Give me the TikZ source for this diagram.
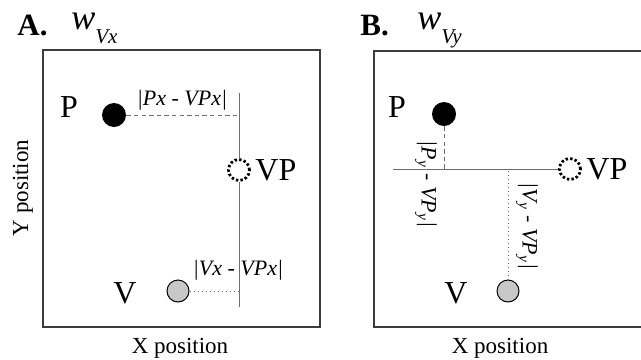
\documentclass[tikz,border=0pt]{standalone}
\usepackage{fontspec}
\setmainfont{Liberation Serif}
\usetikzlibrary{positioning}
\definecolor{DG}{RGB}{60,60,60}
\definecolor{MG}{RGB}{110,110,110}
\definecolor{LG}{RGB}{200,200,200}

\begin{document}
\begin{tikzpicture}[x=0.5pt, y=-0.5pt,
  pdot/.style={circle, fill=black, inner sep=0pt, minimum size=12pt},
  vpdot/.style={circle, draw=black, fill=white, line width=1.4pt,
                dash pattern=on 1.2pt off 1.1pt, inner sep=0pt, minimum size=10.5pt},
  vdot/.style={circle, draw=black, fill=LG, line width=0.5pt,
               inner sep=0pt, minimum size=11pt},
  ptlbl/.style={font=\fontsize{16}{18}\selectfont, inner sep=0pt},
  dlbl/.style={font=\fontsize{11}{13}\selectfont\itshape, inner sep=0pt},
  axlbl/.style={font=\fontsize{11.5}{13}\selectfont, inner sep=0pt, anchor=base},
  ttl/.style={font=\fontsize{15.5}{17}\selectfont\bfseries, anchor=base west, inner sep=0pt},
  wlbl/.style={font=\fontsize{18}{20}\selectfont\itshape, anchor=base west, inner sep=0pt},
  frame/.style={draw=DG, line width=0.75pt},
  ref/.style={draw=MG, line width=0.5pt},
  dist/.style={draw=MG, line width=0.5pt, dash pattern=on 2.2pt off 1.6pt},
  gap/.style={draw=MG, line width=0.5pt, dash pattern=on 0.4pt off 1.6pt}
]
\useasboundingbox (0,0) rectangle (641,359);

% Panel A: weight along x
\draw[frame] (43,50) rectangle (320,327);
\node[ttl] (ttlA) at (17,35) {A.};
\node[wlbl] (wA) at (71,29) {w\raisebox{-7pt}{\fontsize{10.5}{12}\selectfont Vx}};
\node[axlbl, rotate=90] (yA) at (28,188) {Y position};
\node[axlbl] (xA) at (180,353) {X position};

\coordinate (Atop) at (239,93);
\coordinate (Abot) at (239,307);
\node[pdot] (PA) at (114,115) {};
\node[ptlbl] (PAl) at (69,107) {P};
\node[vpdot] (VPA) at (239,170) {};
\node[ptlbl, anchor=west] (VPAl) at (255,170) {VP};
\node[vdot] (VA) at (178,291) {};
\node[ptlbl] (VAl) at (125,293) {V};

\draw[ref] (Atop) -- (VPA.north);
\draw[ref] (VPA.south) -- (Abot);
\draw[dist] (PA.east) -- (PA.east -| Atop);
\draw[gap] (VA.east) -- (VA.east -| Atop);
\node[dlbl] (dPA) at (182,100) {|Px - VPx|};
\node[dlbl] (dVA) at (238,270) {|Vx - VPx|};

% Panel B: weight along y
\draw[frame] (650,51) -- (374,51) -- (374,327) -- (650,327);
\node[ttl] (ttlB) at (360,35) {B.};
\node[wlbl] (wB) at (417,29) {w\raisebox{-7pt}{\fontsize{10.5}{12}\selectfont Vy}};
\node[axlbl] (xB) at (500,353) {X position};

\coordinate (Bleft) at (393,169);
\node[pdot] (PB) at (444,114) {};
\node[ptlbl] (PBl) at (397,107) {P};
\node[vpdot] (VPB) at (570,169) {};
\node[ptlbl, anchor=west] (VPBl) at (586,169) {VP};
\node[vdot] (VB) at (508,291) {};
\node[ptlbl] (VBl) at (456,293) {V};

\draw[ref] (Bleft) -- (VPB.west);
\draw[dist] (PB.south) -- (PB.south |- Bleft);
\draw[gap] (VB.north) -- (VB.north |- Bleft);
\node[dlbl, rotate=-90] (dPB) at (426,184) {|P\textsubscript{y} - VP\textsubscript{y}|};
\node[dlbl, rotate=-90] (dVB) at (527,226) {|V\textsubscript{y} - VP\textsubscript{y}|};
\end{tikzpicture}
\end{document}
